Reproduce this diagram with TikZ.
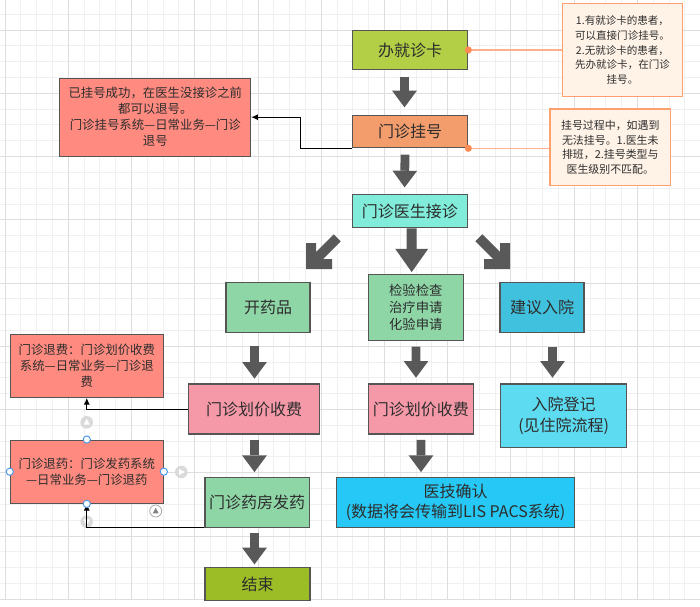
\documentclass[tikz,border=0pt]{standalone}
\usepackage{fontspec}
\setmainfont{Noto Sans CJK SC}
\usetikzlibrary{arrows.meta}
\newcommand{\pxu}{0.75pt}
\definecolor{gridminor}{RGB}{240,240,240}
\definecolor{gridmajor}{RGB}{222,222,222}
\definecolor{boxline}{RGB}{85,85,85}
\definecolor{txt}{RGB}{45,45,45}
\definecolor{cardgreen}{RGB}{179,207,70}
\definecolor{regorange}{RGB}{243,157,108}
\definecolor{aqua}{RGB}{128,236,217}
\definecolor{mintgreen}{RGB}{143,214,167}
\definecolor{deepblue}{RGB}{64,193,222}
\definecolor{pinkc}{RGB}{245,153,168}
\definecolor{lightblue}{RGB}{93,219,240}
\definecolor{brightblue}{RGB}{38,200,245}
\definecolor{endgreen}{RGB}{156,189,38}
\definecolor{notered}{RGB}{255,139,128}
\definecolor{noteborder}{RGB}{255,160,110}
\definecolor{notefill}{RGB}{255,243,231}
\definecolor{oline}{RGB}{255,175,140}
\definecolor{odot}{RGB}{255,140,85}
\definecolor{agray}{RGB}{89,89,89}
\definecolor{handle}{RGB}{70,150,235}
\definecolor{icongray}{RGB}{218,218,218}
\begin{document}
\begin{tikzpicture}[x=0.75pt,y=-0.75pt,
  box/.style={draw=boxline, line width=0.9pt, inner sep=0pt, align=center, text=txt,
    font=\fontsize{12pt}{15.5pt}\selectfont},
  smallbox/.style={box, font=\fontsize{10pt}{13pt}\selectfont},
  leftnote/.style={draw=boxline, line width=0.8pt, fill=notered, inner sep=0pt, align=center, text=txt,
    font=\fontsize{9.3pt}{12pt}\selectfont},
  rightnote/.style={draw=noteborder, line width=0.9pt, fill=notefill, inner sep=0pt, align=center, text=txt,
    font=\fontsize{7.9pt}{10.9pt}\selectfont},
  barrow/.style={draw=agray, line width=6.6pt, -{Triangle[width=18.5pt,length=12.5pt,line width=0pt]}},
  bigbarrow/.style={draw=agray, line width=7.5pt, -{Triangle[width=24.75pt,length=17.5pt,line width=0pt]}},
  conn/.style={draw=black, line width=0.75pt, -{Latex[length=5pt,width=4.5pt]}},
  noteline/.style={draw=oline, line width=0.9pt},
  hdl/.style={draw=handle, fill=white, line width=0.7pt},
  icon/.style={fill=icongray, draw=none}
]
\useasboundingbox (0,0) rectangle (700,607);
\fill[white] (0,0) rectangle (700,607);
% grid
\foreach \i in {0,...,44}{
  \draw[gridminor, line width=0.75pt] ({5.06+\i*15.81},0) -- ({5.06+\i*15.81},599.3);
}
\foreach \k in {1,...,38}{
  \draw[gridminor, line width=0.75pt] (0,{-1.5+\k*15.81}) -- (700,{-1.5+\k*15.81});
}
\foreach \i in {0,4,...,44}{
  \draw[gridmajor, line width=0.75pt] ({5.06+\i*15.81},0) -- ({5.06+\i*15.81},599.3);
}
\foreach \k in {2,6,...,38}{
  \draw[gridmajor, line width=0.75pt] (0,{-1.5+\k*15.81}) -- (700,{-1.5+\k*15.81});
}

% main boxes
\node[box, fill=cardgreen, minimum width=115*\pxu, minimum height=38.6*\pxu] (ka) at (410.2,50) {办就诊卡};
\node[box, fill=regorange, minimum width=115*\pxu, minimum height=32*\pxu] (gh) at (410.2,131.7) {门诊挂号};
\node[box, fill=aqua, minimum width=115*\pxu, minimum height=33.4*\pxu] (jz) at (409.8,211) {门诊医生接诊};
\node[box, fill=mintgreen, minimum width=84*\pxu, minimum height=50.3*\pxu] (ky) at (268,307.7) {开药品};
\node[smallbox, fill=mintgreen, minimum width=95*\pxu, minimum height=66.4*\pxu] (jy) at (415.8,307.5) {检验检查\\治疗申请\\化验申请};
\node[box, fill=deepblue, minimum width=84*\pxu, minimum height=50*\pxu] (jr) at (542,307.7) {建议入院};
\node[box, fill=pinkc, minimum width=130.6*\pxu, minimum height=50*\pxu] (hjL) at (254,409) {门诊划价收费};
\node[box, fill=pinkc, minimum width=105*\pxu, minimum height=50*\pxu] (hjM) at (420.8,409) {门诊划价收费};
\node[box, fill=lightblue, minimum width=126*\pxu, minimum height=63.3*\pxu, font=\fontsize{12pt}{16pt}\selectfont] (dj) at (563.7,415.7) {入院登记\\(见住院流程)};
\node[box, fill=mintgreen, minimum width=104.3*\pxu, minimum height=50*\pxu] (yf) at (257.2,502.3) {门诊药房发药};
\node[box, fill=brightblue, minimum width=237.6*\pxu, minimum height=50*\pxu] (yj) at (455.5,502.3) {医技确认\\(数据将会传输到LIS PACS系统)};
\node[box, fill=endgreen, minimum width=105*\pxu, minimum height=33.4*\pxu] (end) at (257.5,584) {结束};

% notes
\node[leftnote, minimum width=190.7*\pxu, minimum height=77.7*\pxu] (tn) at (155.3,117.2) {已挂号成功，在医生没接诊之前\\都可以退号。\\门诊挂号系统—日常业务—门诊\\退号};
\node[leftnote, minimum width=153*\pxu, minimum height=63.3*\pxu] (tf) at (86.8,365.7) {门诊退费：门诊划价收费\\系统—日常业务—门诊退\\费};
\node[leftnote, minimum width=153*\pxu, minimum height=63.3*\pxu] (ty) at (86.8,471.7) {门诊退药：门诊发药系统\\—日常业务—门诊退药};
\node[rightnote, minimum width=120.4*\pxu, minimum height=93.4*\pxu] (nr1) at (622.5,50) {1.有就诊卡的患者，\\可以直接门诊挂号。\\2.无就诊卡的患者，\\先办就诊卡，在门诊\\挂号。};
\node[rightnote, minimum width=120.7*\pxu, minimum height=76.7*\pxu, font=\fontsize{8.2pt}{11.2pt}\selectfont] (nr2) at (610.3,147.35) {挂号过程中，如遇到\\无法挂号。1.医生未\\排班，2.挂号类型与\\医生级别不匹配。};

% note connectors (right)
\draw[noteline] (ka.east) -- (nr1.west);
\draw[noteline] (gh.south east) -- (gh.south east -| nr2.west);
\fill[odot] (ka.east) circle (3.6);
\fill[odot] (gh.south east) circle (3.6);

% icons (selection UI)
\fill[icon] (86.7,422.3) circle (6.3);
\fill[white] (86.7,418.8) -- (89.8,424.6) -- (83.6,424.6) -- cycle;
\fill[icon] (181.3,472) circle (6.3);
\fill[white] (184.8,472) -- (179,468.9) -- (179,475.1) -- cycle;
\fill[icon] (86.7,521.7) circle (6.3);
\fill[white] (86.7,525.2) -- (89.8,519.4) -- (83.6,519.4) -- cycle;
\draw[icongray!80!black, fill=white, line width=0.6pt] (155.7,511) circle (6);
\fill[icongray!60!black] (155.7,507.8) -- (158.6,513.3) -- (152.8,513.3) -- cycle;

% note connectors (left)
\draw[conn] (gh.south west) -- ++(-52,0) |- (tn.east);
\draw[conn] (hjL.west) -| (tf.south);
\draw[conn] (yf.south west) -| (ty.south);

% selection handles
\draw[hdl] (ty.north) circle (3.6);
\draw[hdl] (ty.west) circle (3.6);
\draw[hdl] (ty.east) circle (3.6);
\draw[hdl] (ty.south) circle (3.6);

% block arrows
\draw[barrow] ([xshift=-5.7*\pxu, yshift=-6.7*\pxu]ka.south) -- ([xshift=-5.7*\pxu, yshift=7.7*\pxu]gh.north);
\draw[barrow] ([xshift=-5.2*\pxu, yshift=-6.3*\pxu]gh.south) -- ([xshift=-5.2*\pxu, yshift=6.3*\pxu]jz.north);
\draw[bigbarrow] ([xshift=1.9*\pxu]jz.south) -- ([xshift=-4.1*\pxu, yshift=1.6*\pxu]jy.north);
\draw[barrow] ([xshift=-13.5*\pxu, yshift=-13*\pxu]ky.south) -- ([xshift=0.5*\pxu, yshift=4.7*\pxu]hjL.north);
\draw[barrow] ([xshift=0.5*\pxu, yshift=-5*\pxu]hjL.south) -- ([xshift=-2.7*\pxu, yshift=4.6*\pxu]yf.north);
\draw[barrow] ([xshift=-2.7*\pxu, yshift=-5.4*\pxu]yf.south) -- ([xshift=-3*\pxu, yshift=2.3*\pxu]end.north);
\draw[barrow] ([xshift=0.2*\pxu, yshift=-5.3*\pxu]jy.south) -- ([xshift=-4.8*\pxu, yshift=5.7*\pxu]hjM.north);
\draw[barrow] ([xshift=0.2*\pxu, yshift=-5.3*\pxu]hjM.south) -- ([xshift=-34.5*\pxu, yshift=4.6*\pxu]yj.north);
\draw[barrow] ([xshift=10.5*\pxu, yshift=-13.3*\pxu]jr.south) -- ([xshift=-11.2*\pxu, yshift=5.7*\pxu]dj.north);
% diagonal arrows
\fill[agray] (306,269) -- (306,243) -- (316,243) -- (316,252) -- (333.7,234.3) -- (340.7,241.3) -- (323,259) -- (332,259) -- (332,269) -- cycle;
\fill[agray] (510,269) -- (510,243) -- (500,243) -- (500,252) -- (482.3,234.3) -- (475.3,241.3) -- (493,259) -- (484,259) -- (484,269) -- cycle;
\end{tikzpicture}
\end{document}
